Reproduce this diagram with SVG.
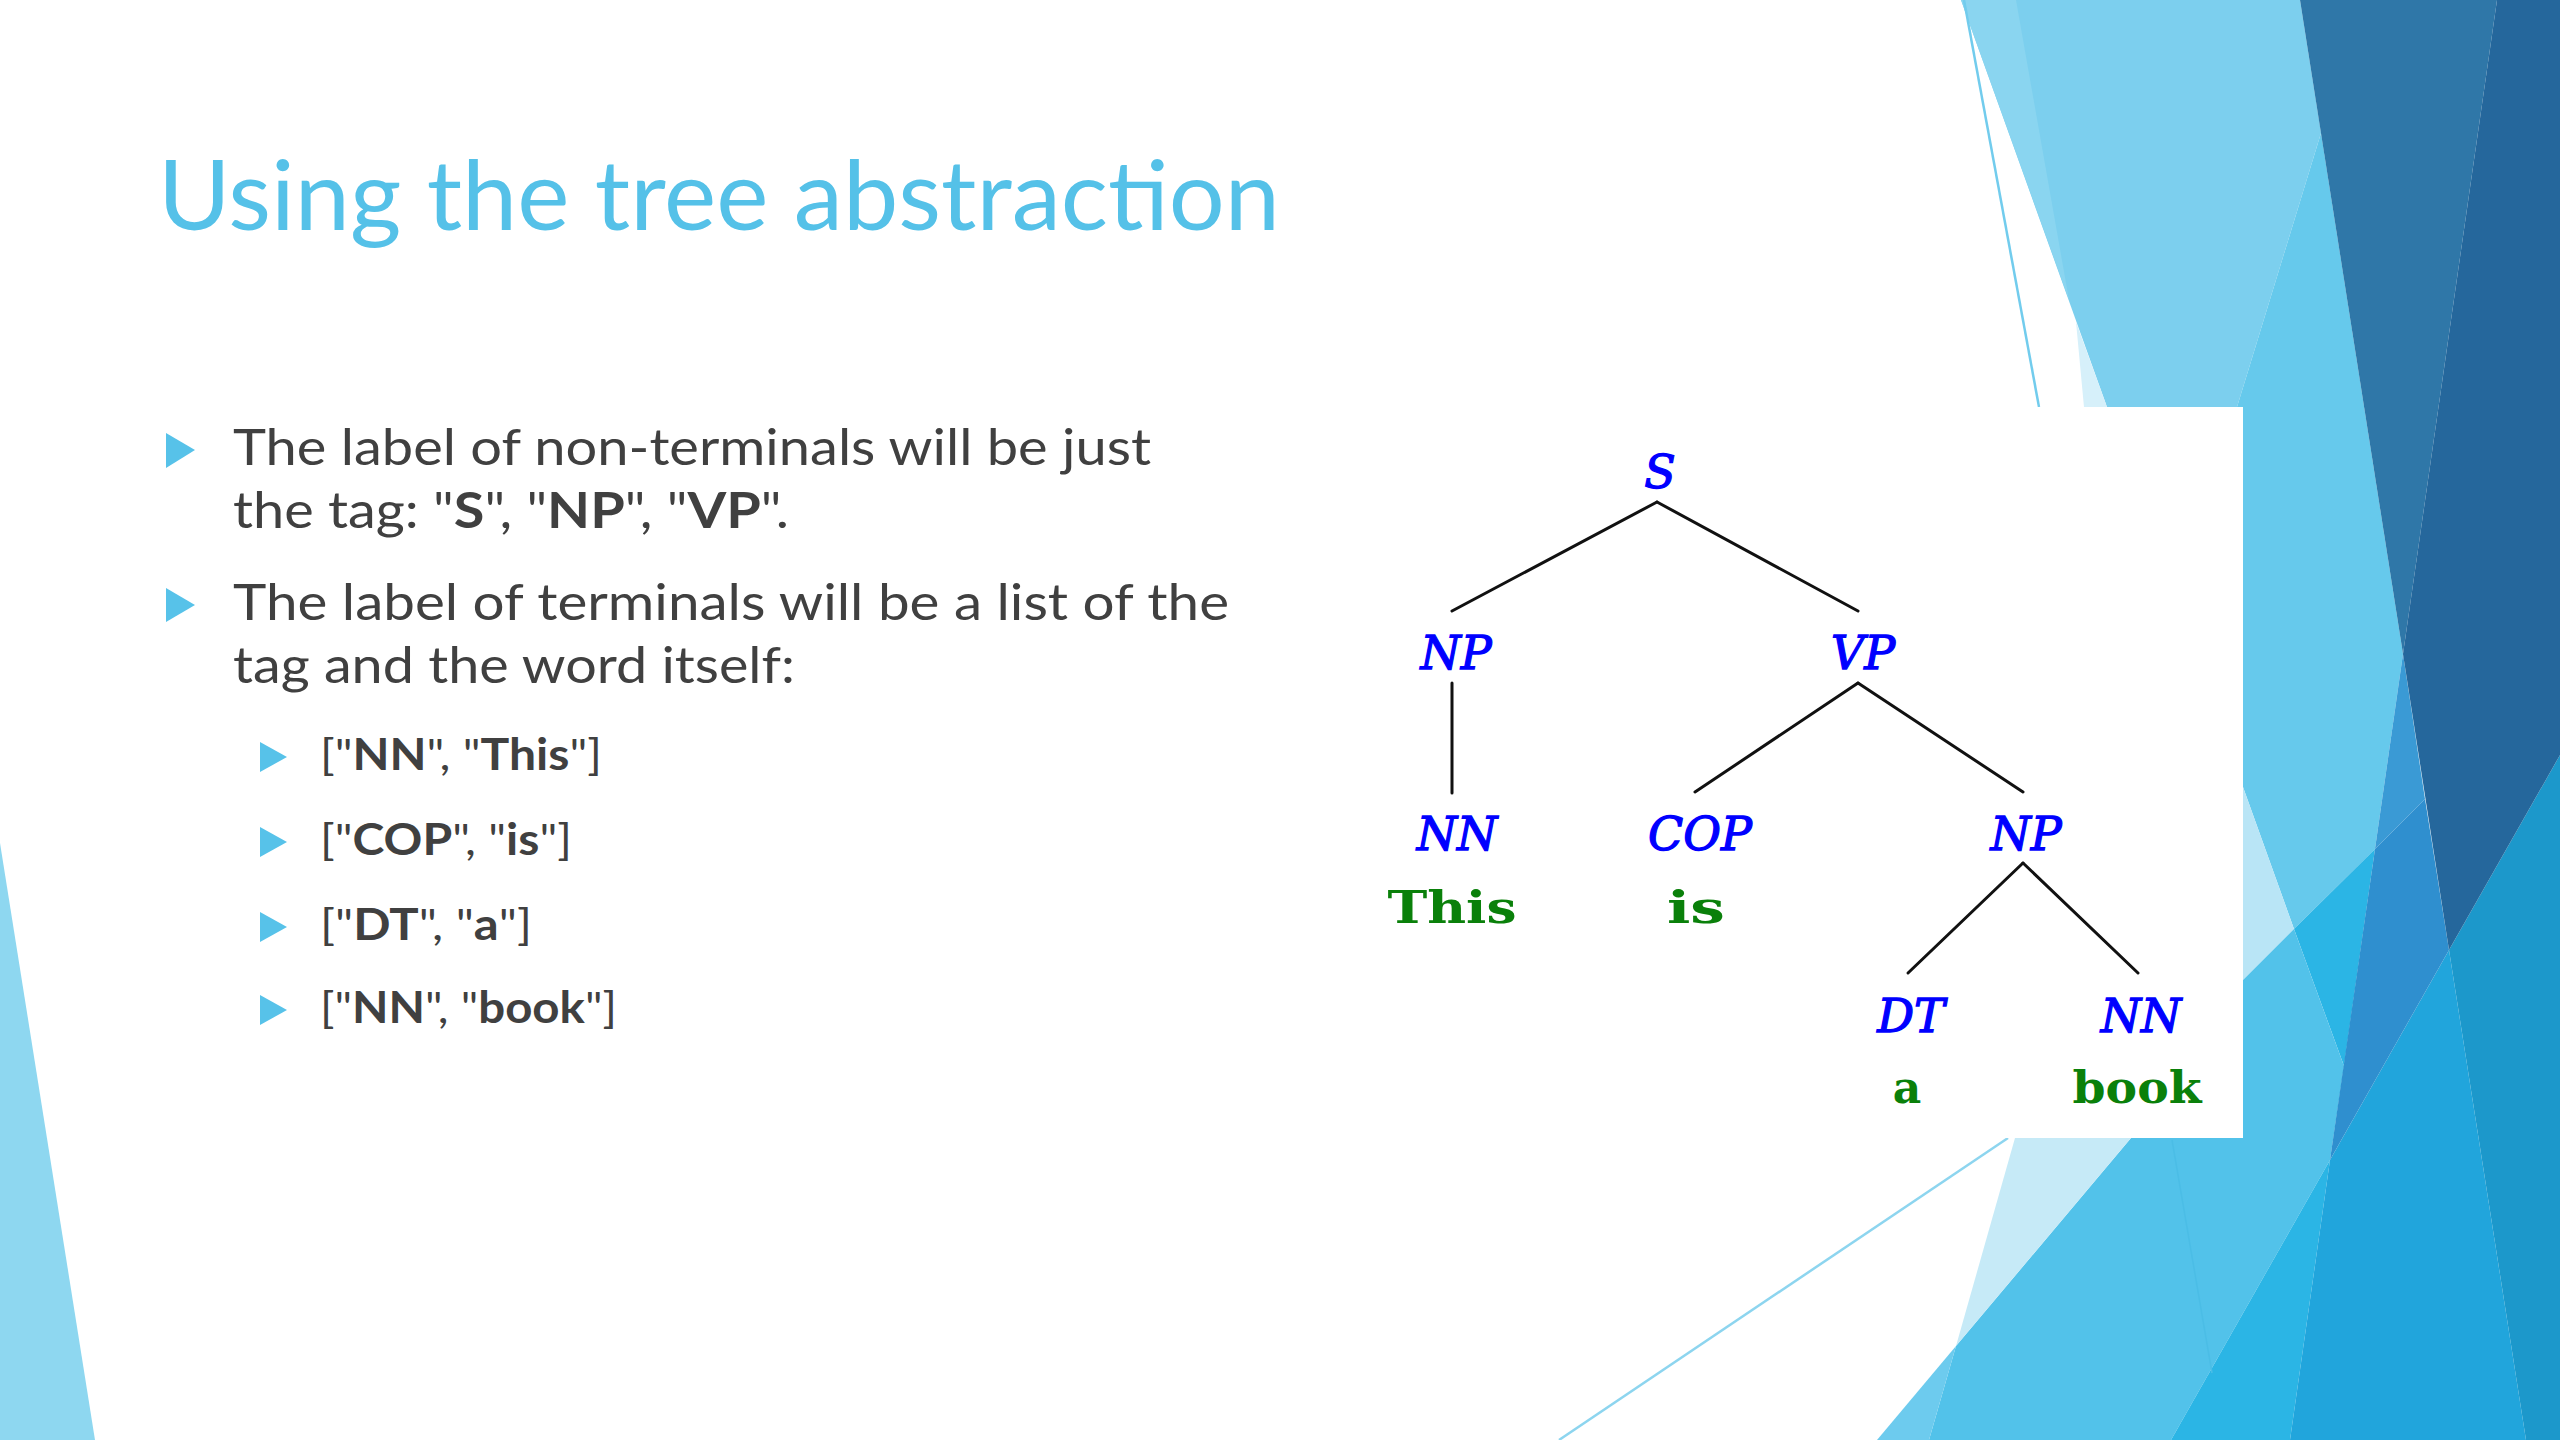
<svg xmlns="http://www.w3.org/2000/svg" width="2560" height="1440" viewBox="0 0 2560 1440">
<style>
.title{font-family:Lato,"Open Sans","Liberation Sans",sans-serif;font-size:97px;fill:#55C1E8}
.body{font-family:Lato,"Open Sans","Liberation Sans",sans-serif;font-size:50px;fill:#404040}
.sub{font-family:Lato,"Open Sans","Liberation Sans",sans-serif;font-size:43px;fill:#404040}
.b{font-weight:bold}
.bul{fill:#57C2E9}
.tag{font-family:"DejaVu Serif","Liberation Serif",serif;font-style:italic;font-size:46px;fill:#0000FF;stroke:#0000FF;stroke-width:1.3;text-anchor:middle}
.word{font-family:"DejaVu Serif","Liberation Serif",serif;font-weight:bold;font-size:44px;fill:#0A800A;text-anchor:middle}
.edge{stroke:#111;stroke-width:3;fill:none;stroke-linecap:round}
</style>
<rect width="2560" height="1440" fill="#FFFFFF"/>
<g id="background">
<polygon points="0,843 95,1440 0,1440" fill="#8ED7F0"/>
<polygon points="1961,0 2300,0 2321,133 2237,407 2107,407" fill="#7CCFEE"/>
<polygon points="1961,0 2016,0 2069,300" fill="#8AD5F0"/>
<polygon points="2076,322 2084,407 2107,407" fill="#D6F0FA"/>
<line x1="1964" y1="0" x2="2039" y2="407" stroke="#72CCED" stroke-width="2.5"/>
<polygon points="2321,133 2403,654 2375,849 2294,929 2243,787 2243,407 2237,407" fill="#66C9EC"/>
<polygon points="2243,787 2294,929 2243,980" fill="#B9E5F6"/>
<polygon points="2294,929 2375,849 2344,1066" fill="#2BB5E5"/>
<polygon points="2243,980 2294,929 2344,1066 2330,1160 2171,1440 1929,1440 1956,1346 2131,1138 2243,1138" fill="#52C2EA"/>
<polygon points="2015,1138 2131,1138 1956,1346" fill="#C6EAF7"/>
<polygon points="1956,1346 1929,1440 1877,1440" fill="#6DCBEE"/>
<polygon points="2330,1160 2290,1440 2171,1440" fill="#2BB5E5"/>
<polygon points="2330,1160 2449,950 2526,1440 2290,1440" fill="#21A5DC"/>
<polygon points="2449,950 2560,755 2560,1440 2526,1440" fill="#1C98CB"/>
<polygon points="2403,654 2425,799 2375,849" fill="#3A9AD5"/>
<polygon points="2375,849 2425,799 2449,950 2330,1160" fill="#2F8FCF"/>
<polygon points="2300,0 2497,0 2403,654" fill="#2F77A8"/>
<polygon points="2497,0 2560,0 2560,755 2449,950 2403,654" fill="#25679C"/>
<line x1="1559" y1="1440" x2="2008" y2="1138" stroke="#8DD5EF" stroke-width="2.5"/>
<line x1="2172" y1="1140" x2="2212" y2="1373" stroke="#4BBDE6" stroke-width="1.5"/>
</g>
<g id="title">
<text class="title" x="158" y="230" textLength="1122" lengthAdjust="spacingAndGlyphs">Using the tree abstraction</text>
</g>
<g id="bullets">
<polygon class="bul" points="166,433 166,468 195,450"/>
<text class="body" x="233" y="465" textLength="918" lengthAdjust="spacingAndGlyphs">The label of non-terminals will be just</text>
<text class="body" x="233" y="528" textLength="556" lengthAdjust="spacingAndGlyphs">the tag: "<tspan class="b">S</tspan>", "<tspan class="b">NP</tspan>", "<tspan class="b">VP</tspan>".</text>
<polygon class="bul" points="166,588 166,622 195,605"/>
<text class="body" x="233" y="620" textLength="996" lengthAdjust="spacingAndGlyphs">The label of terminals will be a list of the</text>
<text class="body" x="233" y="683" textLength="562" lengthAdjust="spacingAndGlyphs">tag and the word itself:</text>
<polygon class="bul" points="260,742 260,772 287,757"/>
<text class="sub" x="320" y="770" textLength="282" lengthAdjust="spacingAndGlyphs">["<tspan class="b">NN</tspan>", "<tspan class="b">This</tspan>"]</text>
<polygon class="bul" points="260,827 260,857 287,842"/>
<text class="sub" x="320" y="855" textLength="252" lengthAdjust="spacingAndGlyphs">["<tspan class="b">COP</tspan>", "<tspan class="b">is</tspan>"]</text>
<polygon class="bul" points="260,912 260,942 287,927"/>
<text class="sub" x="320" y="940" textLength="212" lengthAdjust="spacingAndGlyphs">["<tspan class="b">DT</tspan>", "<tspan class="b">a</tspan>"]</text>
<polygon class="bul" points="260,995 260,1025 287,1010"/>
<text class="sub" x="320" y="1023" textLength="297" lengthAdjust="spacingAndGlyphs">["<tspan class="b">NN</tspan>", "<tspan class="b">book</tspan>"]</text>
</g>
<rect id="tree-panel" x="1330" y="407" width="913" height="731" fill="#FFFFFF"/>
<g id="connectors">
<line class="edge" x1="1657" y1="502" x2="1452" y2="611"/>
<line class="edge" x1="1657" y1="502" x2="1858" y2="611"/>
<line class="edge" x1="1452" y1="683" x2="1452" y2="793"/>
<line class="edge" x1="1858" y1="683" x2="1695" y2="792"/>
<line class="edge" x1="1858" y1="683" x2="2023" y2="792"/>
<line class="edge" x1="2023" y1="863" x2="1908" y2="973"/>
<line class="edge" x1="2023" y1="863" x2="2138" y2="973"/>
</g>
<g id="node-S"><text class="tag" x="1660" y="488">S</text></g>
<g id="node-NP"><text class="tag" x="1456" y="669">NP</text></g>
<g id="node-VP"><text class="tag" x="1863" y="669">VP</text></g>
<g id="node-NN-This"><text class="tag" x="1457" y="850">NN</text><text class="word" x="1452" y="923" textLength="129" lengthAdjust="spacingAndGlyphs">This</text></g>
<g id="node-COP-is"><text class="tag" x="1700" y="850">COP</text><text class="word" x="1696" y="923" textLength="58" lengthAdjust="spacingAndGlyphs">is</text></g>
<g id="node-NP2"><text class="tag" x="2026" y="850">NP</text></g>
<g id="node-DT-a"><text class="tag" x="1911" y="1032">DT</text><text class="word" x="1907" y="1103">a</text></g>
<g id="node-NN-book"><text class="tag" x="2141" y="1032">NN</text><text class="word" x="2137" y="1103" textLength="129" lengthAdjust="spacingAndGlyphs">book</text></g>
</svg>
